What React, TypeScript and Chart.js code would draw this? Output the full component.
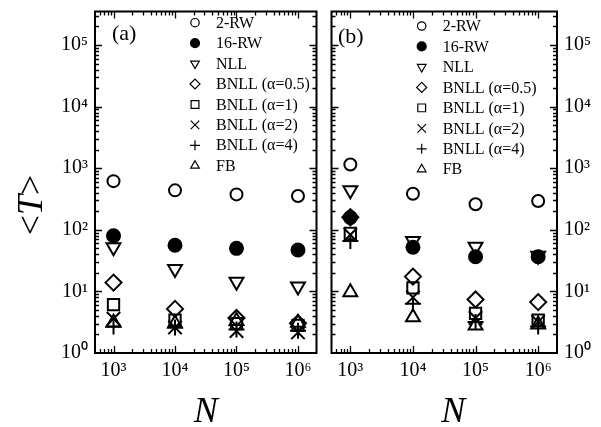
import React, { useEffect, useRef } from 'react';
import { Chart, registerables } from 'chart.js';
import { drawPoint } from 'chart.js/helpers';

Chart.register(...registerables);

// ---------- data ----------
const N_VALUES = [1e3, 1e4, 1e5, 1e6];
const X_TICKS = [1e3, 1e4, 1e5, 1e6];
const Y_TICKS = [1, 10, 100, 1e3, 1e4, 1e5];

const SERIES_NAMES = ['2-RW', '16-RW', 'NLL', 'BNLL (α=0.5)', 'BNLL (α=1)', 'BNLL (α=2)', 'BNLL (α=4)', 'FB'];

// panel (a)
const a_2RW = [617, 437, 376, 354];
const a_16RW = [80, 56, 50, 47];
const a_NLL = [52, 23, 14.4, 12];
const a_BNLL05 = [13.9, 5.2, 3.7, 3.05];
const a_BNLL1 = [6.1, 3.4, 3.0, 2.8];
const a_BNLL2 = [3.6, 2.6, 2.27, 2.16];
const a_BNLL4 = [2.7, 2.6, 2.4, 2.3];
const a_FB = [3.1, 3.0, 3.3, 3.1];

// panel (b)
const b_2RW = [1150, 385, 260, 293];
const b_16RW = [158, 52, 36.5, 36.5];
const b_NLL = [437, 66, 53, 38];
const b_BNLL05 = [160, 17.4, 7.4, 6.7];
const b_BNLL1 = [87, 11.4, 4.4, 3.4];
const b_BNLL2 = [83, 8.0, 3.7, 3.2];
const b_BNLL4 = [66, 6.3, 3.2, 2.7];
const b_FB = [9.7, 3.8, 2.8, 2.9];

const PANEL_A = [a_2RW, a_16RW, a_NLL, a_BNLL05, a_BNLL1, a_BNLL2, a_BNLL4, a_FB];
const PANEL_B = [b_2RW, b_16RW, b_NLL, b_BNLL05, b_BNLL1, b_BNLL2, b_BNLL4, b_FB];

// ---------- styles ----------
const FONT = '"Liberation Serif", "Times New Roman", serif';
const MARKERS = [
  { pointStyle: 'circle', rotation: 0, radius: 6, filled: false, legendRadius: 4.2 },
  { pointStyle: 'circle', rotation: 0, radius: 6.5, filled: true, legendRadius: 4.5 },
  { pointStyle: 'triangle', rotation: 180, radius: 8, filled: false, legendRadius: 5 },
  { pointStyle: 'rectRot', rotation: 0, radius: 8, filled: false, legendRadius: 5 },
  { pointStyle: 'rect', rotation: 0, radius: 8, filled: false, legendRadius: 5.5 },
  { pointStyle: 'crossRot', rotation: 0, radius: 9.5, filled: false, legendRadius: 6 },
  { pointStyle: 'cross', rotation: 0, radius: 8, filled: false, legendRadius: 5 },
  { pointStyle: 'triangle', rotation: 0, radius: 8, filled: false, legendRadius: 5 },
];

const SUP: Record<number, string> = { 0: '⁰', 1: '¹', 2: '²', 3: '³', 4: '⁴', 5: '⁵', 6: '⁶' };
const powLabel = (v: number) => '10' + SUP[Math.round(Math.log10(v))];

const decorPlugin = {
  id: 'decor',
  afterDraw(chart: any, _args: any, opts: any) {
    const { ctx, chartArea: ca, scales } = chart;
    const xs = scales.x;
    const ys = scales.y;
    ctx.save();
    ctx.strokeStyle = '#000';
    ctx.fillStyle = '#000';
    // frame
    ctx.lineWidth = 2;
    ctx.strokeRect(ca.left, ca.top, ca.right - ca.left, ca.bottom - ca.top);
    // ticks
    ctx.lineWidth = 1.3;
    ctx.beginPath();
    for (let d = 2; d <= 6; d++) {
      for (let m = 1; m <= 9; m++) {
        const v = m * Math.pow(10, d);
        if (v <= xs.min || v >= xs.max) continue;
        const px = Math.round(xs.getPixelForValue(v)) + 0.5;
        const len = m === 1 ? 7 : 4;
        ctx.moveTo(px, ca.bottom);
        ctx.lineTo(px, ca.bottom - len);
        ctx.moveTo(px, ca.top);
        ctx.lineTo(px, ca.top + len);
      }
    }
    for (let d = 0; d <= 5; d++) {
      for (let m = 1; m <= 9; m++) {
        const v = m * Math.pow(10, d);
        if (v <= ys.min || v >= ys.max) continue;
        const py = Math.round(ys.getPixelForValue(v)) + 0.5;
        const len = m === 1 ? 7 : 4;
        ctx.moveTo(ca.left, py);
        ctx.lineTo(ca.left + len, py);
        ctx.moveTo(ca.right, py);
        ctx.lineTo(ca.right - len, py);
      }
    }
    ctx.stroke();

    // panel label
    ctx.font = '22px ' + FONT;
    ctx.textBaseline = 'middle';
    ctx.textAlign = 'left';
    ctx.fillText(opts.panel, opts.panelX, opts.panelY);

    // legend
    ctx.font = '16px ' + FONT;
    chart.data.datasets.forEach((ds: any, i: number) => {
      const mk = MARKERS[i];
      const y = opts.legendY + i * opts.legendDY;
      ctx.save();
      ctx.lineWidth = 1.2;
      ctx.strokeStyle = '#000';
      ctx.fillStyle = mk.filled ? '#000' : 'rgba(0,0,0,0)';
      drawPoint(ctx, { pointStyle: mk.pointStyle, rotation: mk.rotation, radius: mk.legendRadius, borderWidth: 1.2 }, opts.legendX, y);
      ctx.restore();
      ctx.fillStyle = '#000';
      ctx.textBaseline = 'middle';
      ctx.textAlign = 'left';
      ctx.fillText(ds.label, opts.legendX + 21, y + 1);
    });

    // y axis title <T>
    if (opts.yTitle) {
      ctx.save();
      ctx.translate(opts.yTitleX, opts.yTitleY);
      ctx.rotate(-Math.PI / 2);
      ctx.textBaseline = 'alphabetic';
      ctx.textAlign = 'left';
      const f1 = '36px ' + FONT;
      const f2 = 'italic 36px ' + FONT;
      ctx.font = f1;
      const w1 = ctx.measureText('<').width;
      const w3 = ctx.measureText('>').width;
      ctx.font = f2;
      const w2 = ctx.measureText('T').width;
      let x = -(w1 + w2 + w3) / 2;
      ctx.font = f1;
      ctx.fillText('<', x, 0);
      x += w1;
      ctx.font = f2;
      ctx.fillText('T', x, 0);
      x += w2;
      ctx.font = f1;
      ctx.fillText('>', x, 0);
      ctx.restore();
    }
    ctx.restore();
  },
};

function makeConfig(panelData: number[][], side: 'left' | 'right', opts: any) {
  const datasets = panelData.map((arr, i) => {
    const mk = MARKERS[i];
    return {
      label: SERIES_NAMES[i],
      data: N_VALUES.map((x, j) => ({ x, y: arr[j] })),
      pointStyle: mk.pointStyle,
      rotation: mk.rotation,
      pointRadius: mk.radius,
      pointBorderWidth: 2,
      borderColor: '#000',
      pointBorderColor: '#000',
      backgroundColor: mk.filled ? '#000' : 'rgba(0,0,0,0)',
      pointBackgroundColor: mk.filled ? '#000' : 'rgba(0,0,0,0)',
      showLine: false,
    };
  });
  return {
    type: 'scatter',
    data: { datasets },
    options: {
      responsive: false,
      maintainAspectRatio: false,
      animation: false,
      events: [],
      layout: { padding: opts.padding },
      plugins: {
        legend: { display: false },
        tooltip: { enabled: false },
        decor: opts.decor,
      },
      scales: {
        x: {
          type: 'logarithmic',
          min: 500,
          max: 2e6,
          afterBuildTicks: (s: any) => {
            s.ticks = X_TICKS.map((v) => ({ value: v }));
          },
          afterFit: (s: any) => {
            s.height = 74;
            s.paddingLeft = 0;
            s.paddingRight = 0;
          },
          grid: { display: false, drawTicks: false },
          border: { display: false },
          ticks: {
            callback: (v: any) => powLabel(Number(v)),
            font: { family: FONT, size: 20 },
            color: '#000',
            padding: 6,
            maxRotation: 0,
            autoSkip: false,
          },
          title: {
            display: true,
            text: opts.xTitle,
            color: '#000',
            font: { family: FONT, size: 36, style: 'italic', lineHeight: 1 },
            padding: { top: 0, bottom: -4 },
          },
        },
        y: {
          type: 'logarithmic',
          position: side,
          min: 1,
          max: 3.5e5,
          afterBuildTicks: (s: any) => {
            s.ticks = Y_TICKS.map((v) => ({ value: v }));
          },
          afterFit: (s: any) => {
            s.width = opts.yWidth;
            s.paddingTop = 0;
            s.paddingBottom = 0;
          },
          grid: { display: false, drawTicks: false },
          border: { display: false },
          ticks: {
            callback: (v: any) => powLabel(Number(v)),
            font: { family: FONT, size: 20 },
            color: '#000',
            padding: 7,
            autoSkip: false,
          },
        },
      },
    },
    plugins: [decorPlugin],
  };
}

function Panel({ left, width, config }: { left: number; width: number; config: any }) {
  const ref = useRef<HTMLCanvasElement | null>(null);
  useEffect(() => {
    if (!ref.current) return;
    const chart = new Chart(ref.current, config);
    return () => chart.destroy();
  }, []);
  return (
    <canvas
      ref={ref}
      width={width}
      height={427}
      style={{ position: 'absolute', left, top: 0, width, height: 427 }}
    />
  );
}

export default function App() {
  const cfgA = makeConfig(PANEL_A, 'left', {
    padding: { left: 0, right: 1, top: 9, bottom: 0 },
    yWidth: 95,
    xTitle: 'N',
    decor: {
      panel: '(a)', panelX: 112, panelY: 34,
      legendX: 195, legendY: 22.7, legendDY: 20.43,
      yTitle: true, yTitleX: 42, yTitleY: 205,
    },
  });
  const cfgB = makeConfig(PANEL_B, 'right', {
    padding: { left: 7, right: 0, top: 9, bottom: 0 },
    yWidth: 44,
    xTitle: '  N',
    decor: {
      panel: '(b)', panelX: 338, panelY: 37,
      legendX: 421.7, legendY: 26, legendDY: 20.47,
      yTitle: false,
    },
  });
  // panel b decor coordinates are relative to its own canvas (left offset 320)
  cfgB.options.plugins.decor.panelX -= 320;
  cfgB.options.plugins.decor.legendX -= 320;
  return (
    <div style={{ position: 'absolute', left: 0, top: 0, width: 601, height: 427, background: '#fff' }}>
      <Panel left={0} width={328} config={cfgA} />
      <Panel left={320} width={281} config={cfgB} />
    </div>
  );
}
